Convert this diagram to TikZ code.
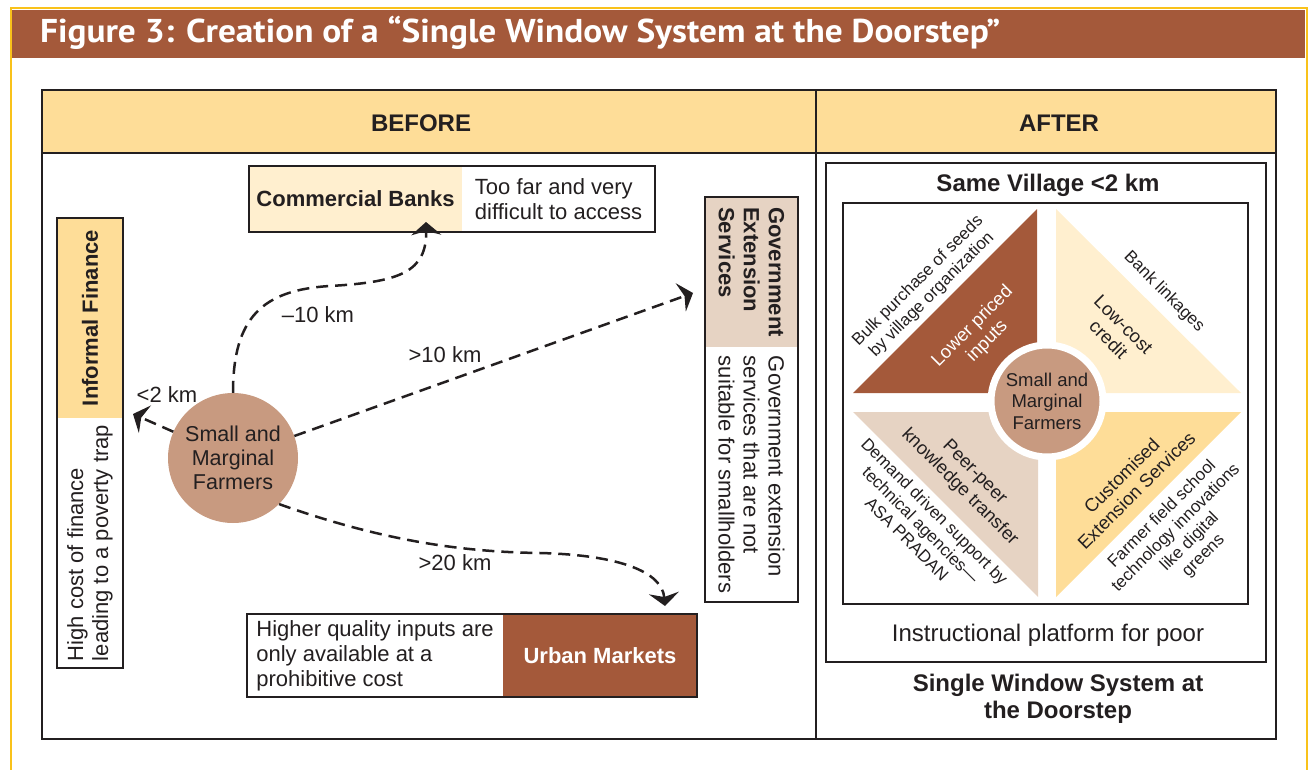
\documentclass[tikz,border=0pt]{standalone}
\usepackage{fontspec}
\usepackage{graphicx}
\setmainfont{Liberation Sans}
\newfontfamily\titlefont{PT Sans}
\usetikzlibrary{arrows.meta}

\definecolor{ink}{HTML}{231F20}
\definecolor{rust}{HTML}{A4593A}
\definecolor{gold}{HTML}{F9C21A}
\definecolor{headfill}{HTML}{FEDD98}
\definecolor{cream}{HTML}{FFEFCF}
\definecolor{blush}{HTML}{E6D3C3}
\definecolor{farmcol}{HTML}{C89A80}

\newcommand\fsReg{\fontsize{22}{25}\selectfont}
\newcommand\fsBold{\fontsize{22}{25}\selectfont\bfseries}
\newcommand\fsHead{\fontsize{24}{27}\selectfont\bfseries}
\newcommand\fsTri{\fontsize{18.5}{21}\selectfont}
\newcommand\fsNote{\fontsize{17}{19.5}\selectfont}
\newcommand\fsFarmL{\fontsize{21.5}{24}\selectfont}
\newcommand\fsFarmR{\fontsize{18.5}{21.5}\selectfont}
\newcommand\fsPlat{\fontsize{24}{27}\selectfont}

\begin{document}
\begin{tikzpicture}[x=1pt,y=-1pt,
  frame/.style={draw=ink,line width=2.5pt},
  boxline/.style={draw=ink,line width=2pt},
  cell/.style={inner sep=0pt,outer sep=0pt,text=ink,font=\fsReg},
  label cell/.style={cell,font=\fsBold},
  headtext/.style={inner sep=0pt,text=ink,font=\fsHead,align=center},
  km/.style={inner sep=0pt,text=ink,font=\fsReg},
  flow/.style={draw=ink,line width=2.5pt,dash pattern=on 12pt off 7pt,
    -{Stealth[length=13pt,width=30pt,inset=4pt]}},
  tri/.style={inner sep=0pt,text=ink,font=\fsTri,align=center},
  trinote/.style={inner sep=0pt,text=ink,font=\fsNote,align=center}
]
\useasboundingbox (0,0) rectangle (1308,770);

% page frame and title band
\fill[rust] (12,10) rectangle (1305,58);
\draw[gold,line width=2.5pt] (11,780) -- (11,8) -- (1307,8) -- (1307,780);
\node[anchor=base west,inner sep=0pt,text=white] (title) at (40,43)
  {\resizebox{960pt}{\height}{\titlefont\fontsize{33}{36}\selectfont\bfseries
   Figure 3: Creation of a “Single Window System at the Doorstep”}};

% table with header row
\fill[headfill] (42,90) rectangle (1276,153);
\draw[frame] (42,90) rectangle (1276,739);
\draw[frame] (42,153) -- (1276,153);
\draw[frame] (816,90) -- (816,739);
\node[headtext] (before) at (421,123) {BEFORE};
\node[headtext] (after) at (1059,123) {AFTER};

% ---------- BEFORE ----------
% commercial banks
\node[label cell,fill=cream,minimum width=213pt,minimum height=66pt] (bankL) at (355.5,199) {Commercial Banks};
\node[cell,minimum width=193pt,minimum height=66pt,align=left] (bankN) at (558.5,199) {Too far and very\\difficult to access};
\draw[boxline] (bankL.north west) rectangle (bankN.south east);

% informal finance
\node[label cell,fill=headfill,rotate=90,minimum width=200pt,minimum height=66pt] (infL) at (90,318) {Informal Finance};
\node[cell,rotate=90,minimum width=250pt,minimum height=66pt,align=left] (infN) at (90,543) {High cost of finance\\leading to a poverty trap};
\draw[boxline] (57,218) rectangle (123,668);

% government extension services
\node[label cell,fill=blush,rotate=-90,minimum width=150pt,minimum height=93pt,align=left] (govL) at (751.5,272) {Government\\Extension\\Services};
\node[cell,rotate=-90,minimum width=255pt,minimum height=93pt,align=left] (govN) at (751.5,474.5) {Government extension\\services that are not\\suitable for smallholders};
\draw[boxline] (705,197) rectangle (798,602);

% urban markets
\node[cell,minimum width=256pt,minimum height=83pt,align=left] (urbN) at (375,655.5) {Higher quality inputs are\\only available at a\\prohibitive cost};
\node[label cell,fill=rust,text=white,minimum width=194pt,minimum height=83pt] (urbL) at (600,655.5) {Urban Markets};
\draw[boxline] (urbN.north west) rectangle (urbL.south east);

% farmers
\node[circle,fill=farmcol,minimum size=130pt,inner sep=0pt,text=ink,font=\fsFarmL,align=center] (farm) at (233,458) {Small and\\Marginal\\Farmers};

% connector ends
\coordinate (toInf) at (133,414);
\coordinate (toBank) at (426,222);
\coordinate (toGov) at (693,293);
\coordinate (toUrb) at (665,606);

\draw[flow] (farm) -- (toInf);
\draw[flow] (farm.north) .. controls (233,318) and (262,290) .. (330,286)
  .. controls (400,282) and (427,272) .. (toBank);
\draw[flow] (farm) -- (toGov);
\draw[flow] (farm.-45) .. controls (380,540) and (460,552) .. (540,553)
  .. controls (620,555) and (662,572) .. (toUrb);

\node[km] (kmInf) at (167,395) {<2 km};
\node[km] (kmBank) at (318,315) {–10 km};
\node[km] (kmGov) at (445,355) {>10 km};
\node[km] (kmUrb) at (455,563) {>20 km};

% ---------- AFTER ----------
\draw[boxline] (826,163) rectangle (1266,662);
\draw[boxline] (843,203) rectangle (1248,604);
\node[headtext] (village) at (1048,185) {Same Village <2 km};

% four quadrants
\fill[rust] (853,393) -- (1037,393) -- (1037,209) -- cycle;
\fill[cream] (1056,209) -- (1056,393) -- (1241,393) -- cycle;
\fill[blush] (853,412) -- (1038,412) -- (1038,597) -- cycle;
\fill[headfill] (1056,412) -- (1241,412) -- (1056,597) -- cycle;

\node[circle,fill=farmcol,draw=white,line width=7pt,minimum size=112pt,inner sep=0pt,text=ink,font=\fsFarmR,align=center] (farmR) at (1047,401) {Small and\\Marginal\\Farmers};

\node[tri,rotate=45,text=white] (lowin) at (980,334) {Lower priced\\inputs};
\node[trinote,rotate=45] (bulk) at (925,288) {Bulk purchase of seeds\\by village organization};
\node[tri,rotate=-45] (credit) at (1116,332) {Low-cost\\credit};
\node[trinote,rotate=-45] (banklink) at (1164,292) {Bank linkages};
\node[tri,rotate=-45] (peer) at (967,480) {Peer-peer\\knowledge transfer};
\node[trinote,rotate=-45] (demand) at (921,525) {Demand driven support by\\technical agencies—\\ASA PRADAN};
\node[tri,rotate=45] (custom) at (1129,483) {Customised\\Extension Services};
\node[trinote,rotate=45] (ffs) at (1183,535) {Farmer field school\\technology innovations\\like digital\\greens};

\node[inner sep=0pt,text=ink,font=\fsPlat] (platform) at (1048,635) {Instructional platform for poor};
\node[headtext] (sws) at (1058,699) {Single Window System at\\the Doorstep};
\end{tikzpicture}
\end{document}
